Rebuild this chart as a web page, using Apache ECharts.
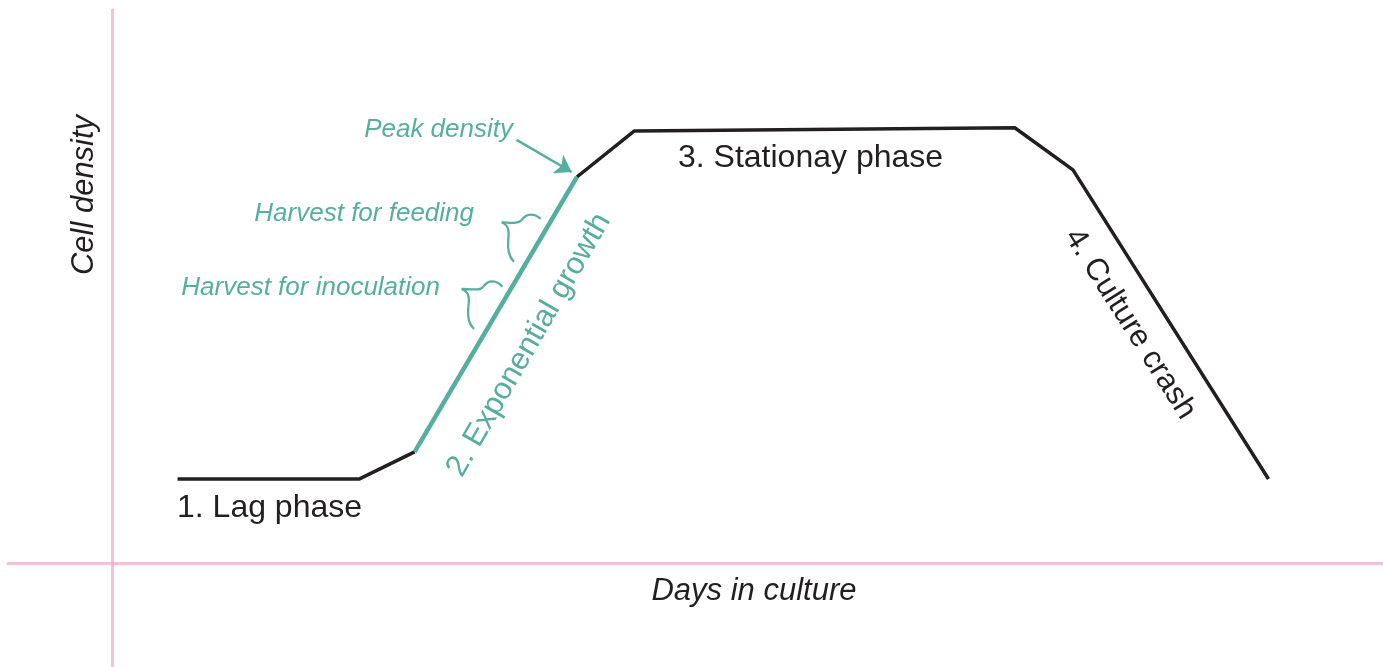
<!DOCTYPE html>
<html lang="en">
<head>
<meta charset="utf-8">
<title>Culture growth phases</title>
<script src="https://cdn.jsdelivr.net/npm/echarts@6/dist/echarts.min.js"></script>
<style>
  html, body { margin: 0; padding: 0; background: #fff; }
  #chart { width: 1383px; height: 667px; }
</style>
</head>
<body>
<div id="chart"></div>
<script>
// days in culture (x) and cell density (y), arbitrary units
var lagDays = [0.63, 2.38, 2.91];
var lagDensity = [1.52, 1.52, 2.01];
var expDays = [2.91, 4.47];
var expDensity = [2.01, 6.98];
var lateDays = [4.47, 5.02, 8.68, 9.24, 11.12];
var lateDensity = [6.98, 7.81, 7.87, 7.11, 1.52];
var arrowFrom = [3.89, 7.65];
var arrowTo = [4.42, 7.07];

var BLACK = '#231f20';
var TEAL = '#55ae9f';
var PINK = 'rgba(240,160,196,0.65)';

function pairs(xs, ys) {
  return xs.map(function (x, i) { return [x, ys[i]]; });
}

var chart = echarts.init(document.getElementById('chart'));

function txt(x, y, text, opt) {
  opt = opt || {};
  return {
    type: 'text', x: x, y: y, rotation: opt.rot || 0, z: 10,
    style: {
      text: text,
      fill: opt.color || BLACK,
      font: (opt.italic ? 'italic ' : '') + (opt.size || 31) + 'px "Liberation Sans", Arial, sans-serif',
      align: opt.align || 'left',
      verticalAlign: 'middle'
    }
  };
}

// one cubic piece of a curly brace
function curve(p) {
  return {
    type: 'bezierCurve', z: 10,
    shape: { x1: p[0], y1: p[1], cpx1: p[2], cpy1: p[3], cpx2: p[4], cpy2: p[5], x2: p[6], y2: p[7] },
    style: { stroke: TEAL, lineWidth: 2.3, fill: null }
  };
}

var braces = [
  [540.7, 219, 535, 213.3, 526.7, 212.7, 521.7, 220],
  [521.7, 220, 518.3, 224, 511.7, 222.7, 501.7, 222.3],
  [501.7, 222.3, 508.3, 225, 509.3, 230, 508.3, 240],
  [508.3, 240, 507.3, 250, 509.3, 257.3, 514, 261.7],
  [502.3, 286.7, 496.7, 280, 488.3, 279.3, 483.3, 286.7],
  [483.3, 286.7, 480, 290.7, 473.3, 289.3, 461.7, 289],
  [461.7, 289, 468.3, 291.7, 470, 296.7, 468.3, 306.7],
  [468.3, 306.7, 467.3, 316.7, 468.3, 324, 474, 329]
];

var option = {
  animation: false,
  grid: { left: 8, right: 0, top: 10, bottom: 0 },
  xAxis: {
    type: 'value', min: -1, max: 12.221,
    axisLine: { onZero: true, lineStyle: { color: PINK, width: 3 } },
    axisTick: { show: false }, axisLabel: { show: false }, splitLine: { show: false }
  },
  yAxis: {
    type: 'value', min: -1.8807, max: 10,
    axisLine: { show: true, onZero: true, lineStyle: { color: PINK, width: 3 } },
    axisTick: { show: false }, axisLabel: { show: false }, splitLine: { show: false }
  },
  series: [
    {
      type: 'line', data: pairs(lagDays, lagDensity), showSymbol: false,
      lineStyle: { color: BLACK, width: 3.5 }
    },
    {
      type: 'line', data: pairs(lateDays, lateDensity), showSymbol: false,
      lineStyle: { color: BLACK, width: 3.5 }
    },
    {
      type: 'line', data: pairs(expDays, expDensity), showSymbol: false, z: 3,
      lineStyle: { color: TEAL, width: 4.5 },
      markLine: {
        silent: true, symbol: ['none', 'arrow'], symbolSize: 16,
        label: { show: false },
        lineStyle: { color: TEAL, width: 2.5, type: 'solid' },
        data: [[{ coord: arrowFrom }, { coord: arrowTo }]]
      }
    }
  ],
  graphic: [
    txt(177, 508, '1. Lag phase', { size: 32 }),
    txt(678, 158, '3. Stationay phase', { size: 32 }),
    txt(529, 345, '2. Exponential growth', { color: TEAL, rot: 1.047, align: 'center' }),
    txt(1130, 324, '4. Culture crash', { rot: -1.005, align: 'center' }),
    txt(754, 591, 'Days in culture', { italic: true, align: 'center', size: 31 }),
    txt(84, 195, 'Cell density', { italic: true, align: 'center', size: 31, rot: Math.PI / 2 }),
    txt(513, 130, 'Peak density', { italic: true, align: 'right', size: 26, color: TEAL }),
    txt(474, 214, 'Harvest for feeding', { italic: true, align: 'right', size: 26, color: TEAL }),
    txt(440, 288, 'Harvest for inoculation', { italic: true, align: 'right', size: 26, color: TEAL })
  ].concat(braces.map(curve))
};

chart.setOption(option);
</script>
</body>
</html>
